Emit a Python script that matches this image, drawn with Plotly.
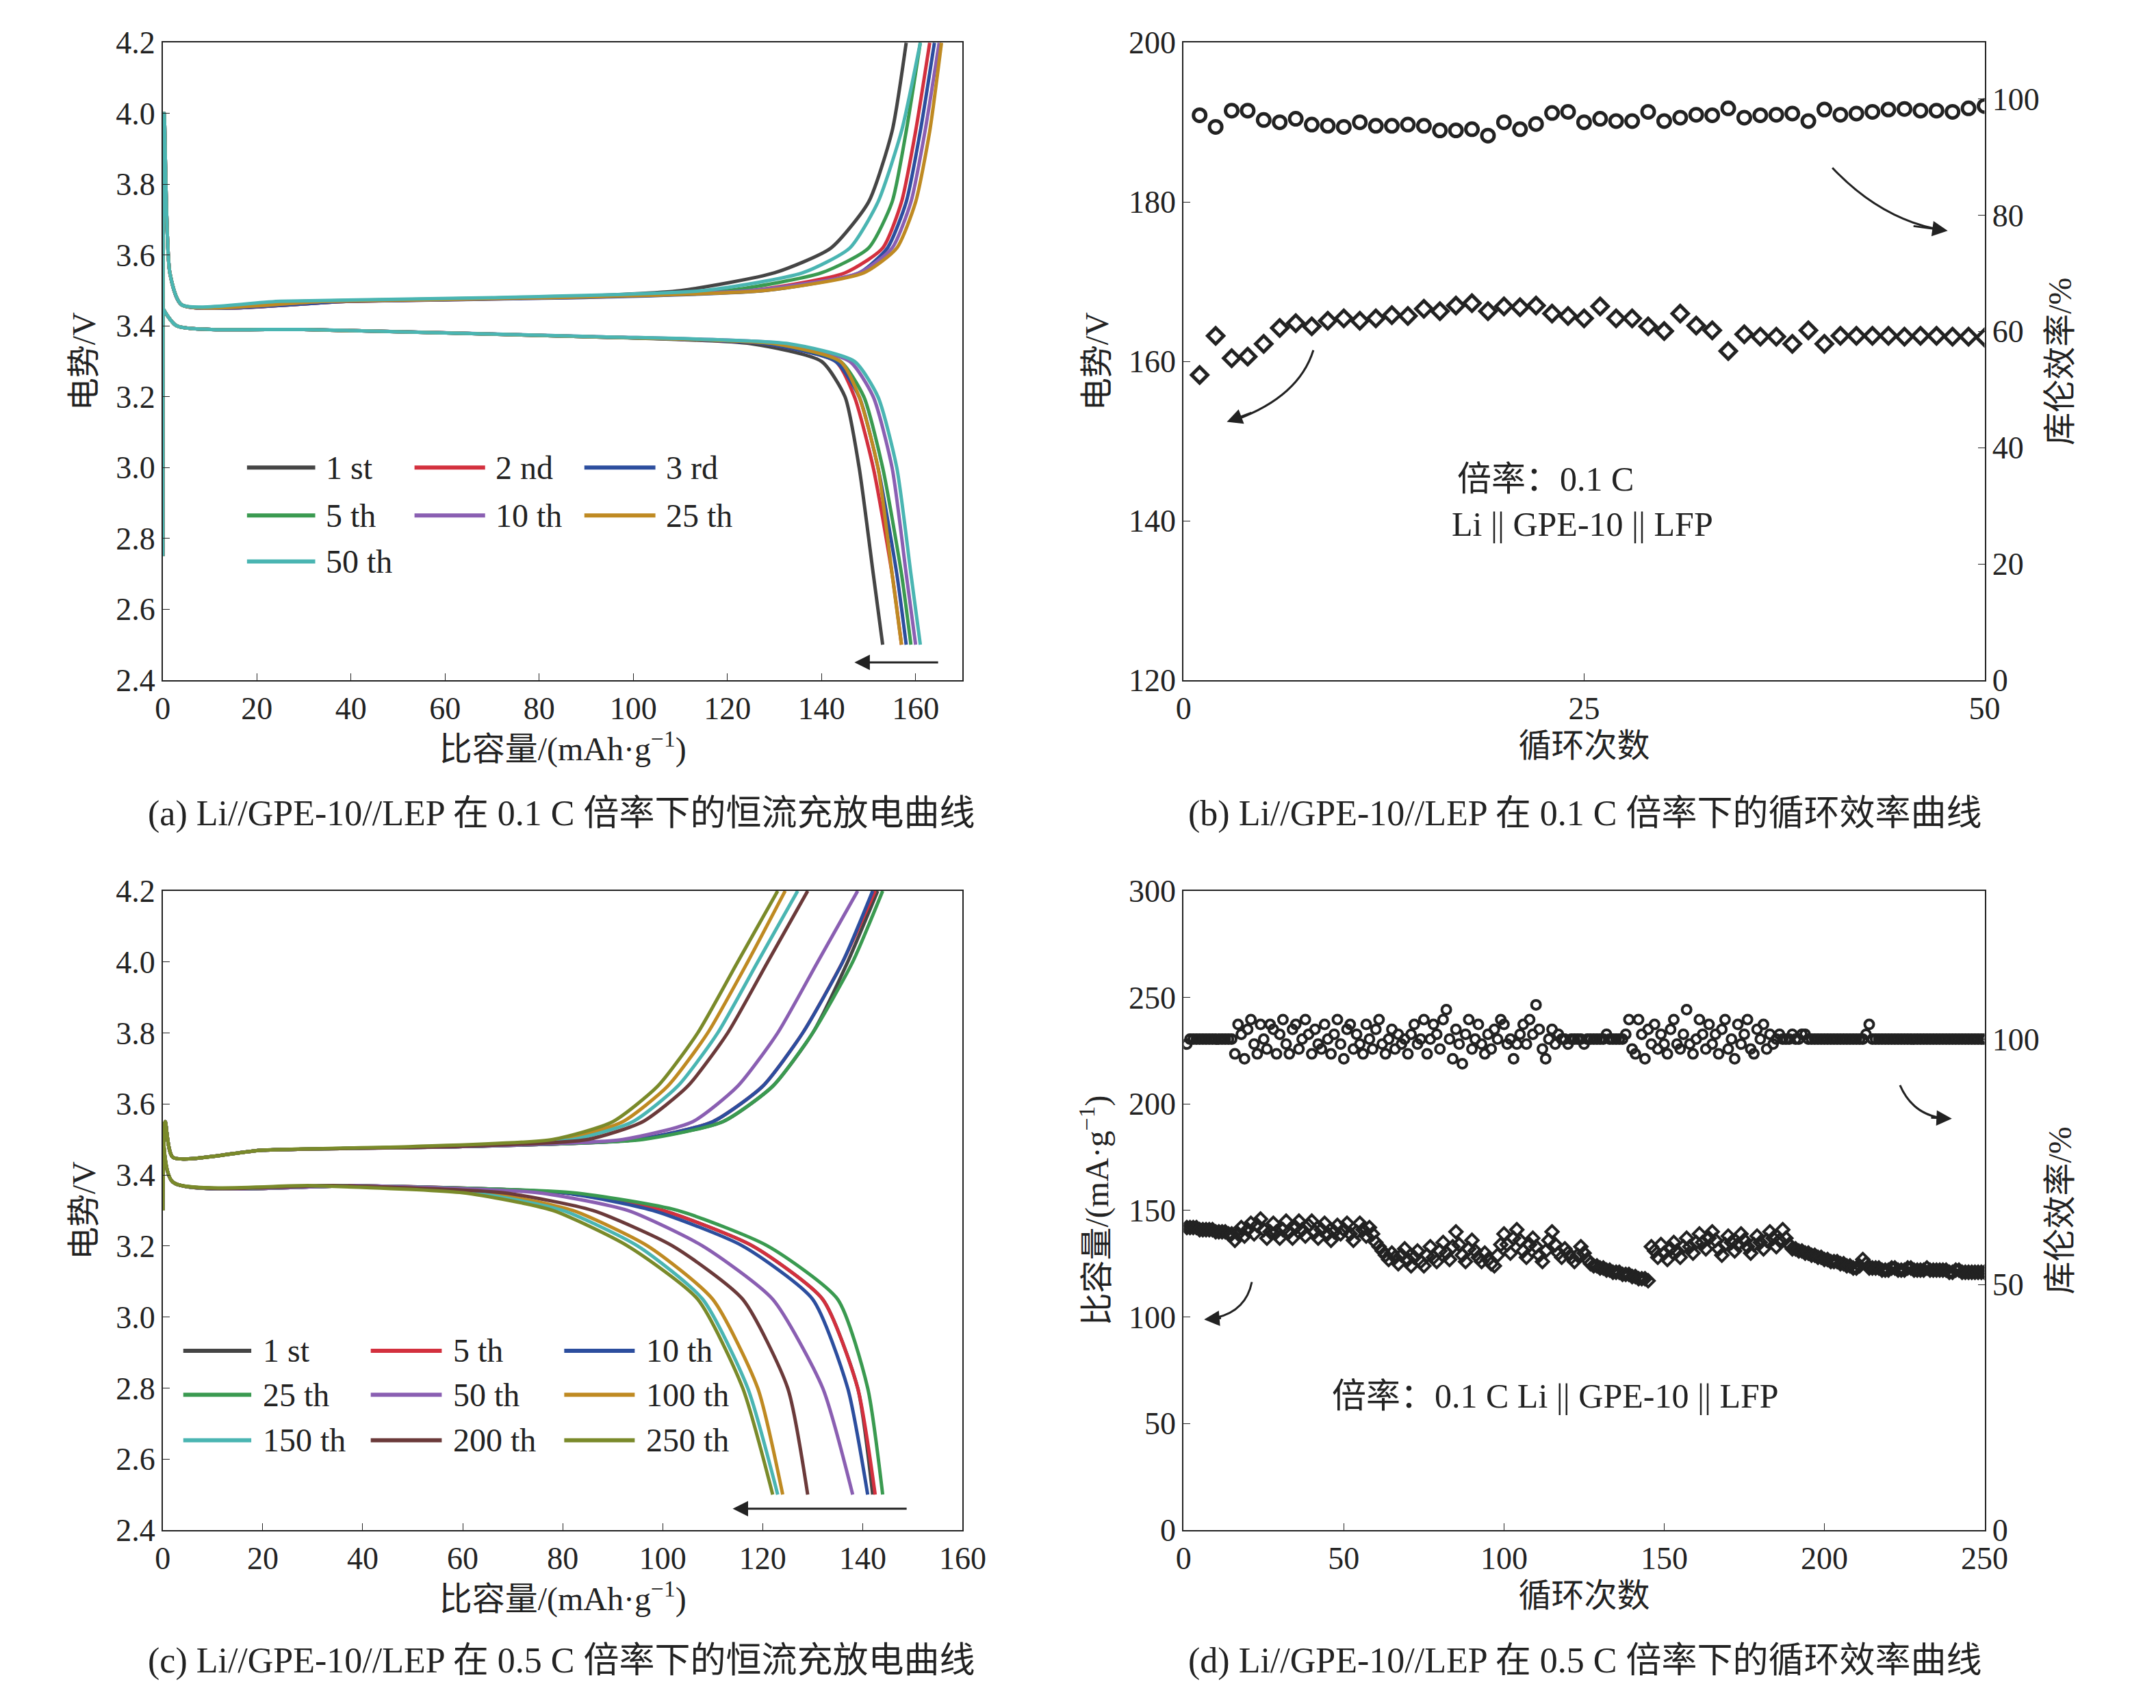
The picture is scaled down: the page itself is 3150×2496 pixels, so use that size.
import plotly.graph_objects as go

FONT = "Liberation Serif, Noto Sans CJK SC"

# ---------- (a) 0.1 C charge/discharge ----------
names_a = ["1 st", "2 nd", "3 rd", "5 th", "10 th", "25 th", "50 th"]
colors_a = ["#454545", "#d3303e", "#2c4e9e", "#3a9a50", "#8a5fb2", "#bf8a22", "#4ab5b2"]
v_chg_a = [2.75, 4.0, 3.55, 3.46, 3.47, 3.48, 3.50, 3.55, 3.62, 3.75, 3.95, 4.2]
q_chg_a = [
    [0, 0.3, 1.5, 4, 40, 80, 110, 130, 142, 150, 155, 158],
    [0, 0.3, 1.5, 4, 40, 85, 125, 145, 153, 157, 160, 163],
    [0, 0.3, 1.5, 4, 40, 88, 128, 148, 154, 158, 161, 164],
    [0, 0.3, 1.5, 4, 30, 75, 120, 140, 150, 155, 158, 161],
    [0, 0.3, 1.5, 4, 35, 80, 125, 148, 155, 159, 162, 165],
    [0, 0.3, 1.5, 4, 35, 82, 128, 149, 156, 160, 163, 165.5],
    [0, 0.3, 1.5, 4, 25, 70, 115, 136, 146, 152, 157, 161],
]
v_dis_a = [3.45, 3.40, 3.39, 3.37, 3.35, 3.30, 3.20, 3.0, 2.7, 2.5]
q_dis_a = [
    [0, 3, 30, 90, 125, 140, 145, 148, 151, 153],
    [0, 3, 30, 90, 128, 143, 147, 151, 155, 157],
    [0, 3, 30, 90, 128, 143, 148, 152, 156, 158],
    [0, 3, 30, 90, 130, 144, 149, 153, 157, 159],
    [0, 3, 30, 92, 132, 146, 151, 155, 158, 160],
    [0, 3, 30, 90, 130, 144, 148, 152, 155, 157],
    [0, 3, 30, 92, 133, 147, 152, 156, 159, 161],
]

# ---------- (b) 0.1 C cycling ----------
cap_b = [158.3, 163.2, 160.4, 160.6, 162.2, 164.2, 164.8, 164.4, 165.1, 165.4,
         165.1, 165.4, 165.8, 165.7, 166.6, 166.3, 167.0, 167.3, 166.3, 166.9,
         166.8, 167.0, 166.0, 165.7, 165.4, 166.9, 165.4, 165.4, 164.4, 163.8,
         166.0, 164.5, 163.9, 161.3, 163.4, 163.1, 163.1, 162.2, 163.9, 162.2,
         163.2, 163.2, 163.2, 163.2, 163.1, 163.2, 163.2, 163.1, 163.1, 163.0]
eff_b = [97.2, 95.2, 98.0, 98.0, 96.4, 96.0, 96.6, 95.6, 95.4, 95.2,
         96.0, 95.4, 95.4, 95.6, 95.4, 94.6, 94.6, 94.8, 93.7, 96.0,
         94.8, 95.7, 97.6, 97.8, 96.0, 96.6, 96.2, 96.2, 97.8, 96.2,
         96.8, 97.3, 97.2, 98.4, 96.8, 97.2, 97.3, 97.5, 96.2, 98.2,
         97.3, 97.5, 97.8, 98.2, 98.3, 98.0, 98.0, 97.8, 98.4, 98.8]

# ---------- (c) 0.5 C charge/discharge ----------
names_c = ["1 st", "5 th", "10 th", "25 th", "50 th", "100 th", "150 th", "200 th", "250 th"]
colors_c = ["#454545", "#d3303e", "#2c4e9e", "#3a9a50", "#8a5fb2", "#bf8a22", "#4ab5b2", "#6b3a3a", "#7a8a2a"]
v_chg_c = [3.3, 3.55, 3.45, 3.47, 3.48, 3.50, 3.55, 3.65, 3.8, 4.0, 4.2]
q_chg_c = [
    [0, 0.5, 2, 20, 60, 95, 112, 122, 130, 137, 143],
    [0, 0.5, 2, 20, 60, 95, 110, 120, 128, 136, 142.5],
    [0, 0.5, 2, 20, 60, 95, 110, 120, 128, 136, 142],
    [0, 0.5, 2, 20, 60, 96, 112, 122, 130, 138, 144],
    [0, 0.5, 2, 20, 60, 92, 106, 115, 123, 131, 139],
    [0, 0.5, 2, 20, 55, 80, 92, 101, 109, 117, 124.5],
    [0, 0.5, 2, 20, 55, 82, 94, 103, 111, 119, 127],
    [0, 0.5, 2, 20, 58, 85, 96, 105, 113, 121, 129],
    [0, 0.5, 2, 20, 50, 78, 90, 99, 107, 115, 123],
]
v_dis_c = [3.55, 3.38, 3.37, 3.35, 3.30, 3.20, 3.05, 2.8, 2.5]
q_dis_c = [
    [0, 2, 40, 80, 100, 118, 132, 139, 142],
    [0, 2, 40, 80, 100, 118, 132, 139, 142.5],
    [0, 2, 40, 80, 98, 116, 130, 137, 141],
    [0, 2, 40, 82, 103, 121, 135, 141, 144],
    [0, 2, 40, 75, 93, 108, 122, 132, 138],
    [0, 2, 35, 65, 82, 97, 110, 119, 124],
    [0, 2, 35, 62, 80, 95, 108, 117, 123],
    [0, 2, 35, 68, 86, 102, 116, 125, 129],
    [0, 2, 30, 60, 78, 93, 107, 116, 122],
]

# ---------- (d) 0.5 C cycling ----------
cap_d = [142, 142, 142, 142, 141, 141, 141, 141, 141, 140, 140, 140, 140, 139, 139,
         136, 139, 142, 138, 141, 144, 139, 143, 146, 141, 137, 140, 144, 140, 137,
         141, 145, 140, 137, 142, 145, 141, 138, 143, 145, 140, 137, 141, 144, 139,
         136, 140, 143, 139, 141, 144, 139, 136, 140, 144, 141, 138, 142, 139, 135,
         133, 131, 129, 127, 130, 128, 125, 129, 132, 127, 124, 128, 131, 126, 124,
         129, 133, 128, 126, 131, 135, 130, 127, 133, 140, 134, 129, 126, 132, 136,
         131, 128, 126, 130, 127, 125, 124, 129, 134, 139, 134, 130, 137, 141, 136,
         131, 128, 134, 137, 133, 129, 126, 131, 136, 140, 134, 130, 128, 132, 130,
         128, 126, 129, 133, 130, 127, 125, 124, 124, 123, 123, 122, 122, 121, 121,
         121, 120, 120, 120, 119, 119, 118, 118, 118, 117,
         133, 131, 128, 134, 130, 127, 132, 135, 131, 128, 133, 137, 133, 130, 135,
         139, 135, 132, 137, 140, 136, 132, 129, 134, 138, 135, 131, 134, 139, 136,
         133, 130, 134, 138, 135, 132, 136, 140, 137, 133, 136, 141, 137, 134, 132,
         132, 131, 131, 130, 130, 129, 129, 128, 128, 127, 127, 126, 126, 126, 125,
         125, 124, 124, 123, 123, 124, 127, 125, 123, 123, 123, 123, 122, 122, 122,
         123, 123, 122, 122, 122, 123, 123, 122, 122, 122, 122, 123, 122, 122, 122,
         122, 122, 122, 121, 121, 122, 122, 121, 121, 121, 121, 121, 121, 121, 121]
eff_d = [99, 100, 100, 100, 100, 100, 100, 100, 100, 100, 100, 100, 100, 100, 100,
         97, 103, 101, 96, 102, 104, 99, 97, 103, 100, 98, 103, 102, 97, 101,
         104, 99, 97, 102, 103, 98, 100, 104, 101, 97, 102, 99, 98, 103, 100,
         97, 101, 104, 99, 96, 102, 103, 98, 101, 99, 97, 103, 100, 98, 102,
         104, 99, 97, 100, 102, 98, 101, 99, 100, 97, 101, 103, 99, 100, 104,
         97, 100, 103, 101, 98, 104, 106, 100, 96, 102, 99, 95, 101, 104, 98,
         100, 103, 99, 97, 101, 98, 102, 100, 104, 103, 99, 100, 96, 99, 101,
         103, 99, 104, 101, 107, 102, 98, 96, 100, 102, 99, 101, 100, 100, 99,
         100, 100, 100, 100, 99, 100, 100, 100, 100, 100, 100, 101, 100, 100, 100,
         100, 100, 101, 104, 98, 97, 104, 101, 96, 102, 99, 103, 98, 101, 99,
         97, 102, 104, 99, 98, 101, 106, 99, 97, 100, 104, 101, 98, 103, 99,
         101, 97, 102, 104, 98, 100, 96, 103, 99, 101, 104, 98, 97, 102, 100,
         103, 98, 101, 99, 100, 101, 100, 100, 100, 101,
         100, 100, 101, 101, 100, 100, 100, 100, 100, 100, 100, 100, 100, 100, 100,
         100, 100, 100, 100, 100, 100, 100, 101, 103, 100, 100, 100, 100, 100, 100,
         100, 100, 100, 100, 100, 100, 100, 100, 100, 100, 100, 100, 100, 100, 100,
         100, 100, 100, 100, 100, 100, 100, 100, 100, 100, 100, 100, 100, 100, 100]

# legend grid (3 columns) in data units of each panel
leg_a_cols = [(17.9, 32.4), (53.5, 68.5), (89.6, 104.7)]
leg_a_rows = [3.0, 2.865, 2.735]
leg_c_cols = [(4.1, 17.7), (41.6, 55.8), (80.3, 94.4)]
leg_c_rows = [2.905, 2.781, 2.653]

fig = go.Figure()

for i in range(len(names_a)):
    for q, v in [(q_chg_a[i], v_chg_a), (q_dis_a[i], v_dis_a)]:
        fig.add_trace(go.Scatter(x=q, y=v, mode="lines", showlegend=False,
                                 line=dict(color=colors_a[i], width=5, shape="spline", smoothing=0.6),
                                 xaxis="x", yaxis="y"))

for i in range(len(names_c)):
    for q, v in [(q_chg_c[i], v_chg_c), (q_dis_c[i], v_dis_c)]:
        fig.add_trace(go.Scatter(x=q, y=v, mode="lines", showlegend=False,
                                 line=dict(color=colors_c[i], width=5, shape="spline", smoothing=0.6),
                                 xaxis="x3", yaxis="y3"))

cyc_b = list(range(1, len(cap_b) + 1))
fig.add_trace(go.Scatter(x=cyc_b, y=cap_b, mode="markers", showlegend=False, xaxis="x2", yaxis="y2",
                         marker=dict(symbol="diamond-open", size=18, color="#222", line=dict(width=5))))
fig.add_trace(go.Scatter(x=cyc_b, y=eff_b, mode="markers", showlegend=False, xaxis="x2", yaxis="y5",
                         marker=dict(symbol="circle-open", size=18, color="#222", line=dict(width=5))))

cyc_d = list(range(1, len(cap_d) + 1))
fig.add_trace(go.Scatter(x=cyc_d, y=cap_d, mode="markers", showlegend=False, xaxis="x4", yaxis="y4",
                         marker=dict(symbol="diamond-open", size=14, color="#222", line=dict(width=4))))
fig.add_trace(go.Scatter(x=list(range(1, len(eff_d) + 1)), y=eff_d, mode="markers", showlegend=False,
                         xaxis="x4", yaxis="y6",
                         marker=dict(symbol="circle-open", size=13, color="#222", line=dict(width=4))))

tickf = dict(family=FONT, size=46, color="#222")
titf = dict(family=FONT, size=48, color="#222")
ax = dict(showline=True, linecolor="#222", linewidth=2, ticks="inside", ticklen=10, tickcolor="#222",
          showgrid=False, zeroline=False, tickfont=tickf, mirror=True)

xa, xb = [0.0705, 0.447], [0.551, 0.928]
ytop, ybot = [0.607, 0.988], [0.099, 0.481]

fig.update_layout(
    width=3150, height=2496, plot_bgcolor="white", paper_bgcolor="white",
    margin=dict(l=0, r=0, t=0, b=0), showlegend=False,
    font=dict(family=FONT, color="#222"),
    xaxis=dict(ax, domain=xa, anchor="y", range=[0, 170], dtick=20,
               title=dict(text="比容量/(mAh·g<sup>−1</sup>)", font=titf, standoff=12)),
    yaxis=dict(ax, domain=ytop, anchor="x", range=[2.4, 4.2], dtick=0.2, tickformat=".1f",
               title=dict(text="电势/V", font=titf, standoff=14)),
    xaxis2=dict(ax, domain=xb, anchor="y2", range=[0, 50], tickvals=[0, 25, 50],
                title=dict(text="循环次数", font=titf, standoff=12)),
    yaxis2=dict(ax, domain=ytop, anchor="x2", range=[120, 200], dtick=20, mirror=False,
                title=dict(text="电势/V", font=titf, standoff=14)),
    yaxis5=dict(ax, overlaying="y2", anchor="x2", side="right", range=[0, 109.7], dtick=20, mirror=False,
                title=dict(text="库伦效率/%", font=titf, standoff=14)),
    xaxis3=dict(ax, domain=xa, anchor="y3", range=[0, 160], dtick=20,
                title=dict(text="比容量/(mAh·g<sup>−1</sup>)", font=titf, standoff=12)),
    yaxis3=dict(ax, domain=ybot, anchor="x3", range=[2.4, 4.2], dtick=0.2, tickformat=".1f",
                title=dict(text="电势/V", font=titf, standoff=14)),
    xaxis4=dict(ax, domain=xb, anchor="y4", range=[0, 250], dtick=50,
                title=dict(text="循环次数", font=titf, standoff=12)),
    yaxis4=dict(ax, domain=ybot, anchor="x4", range=[0, 300], dtick=50, mirror=False,
                title=dict(text="比容量/(mA·g<sup>−1</sup>)", font=titf, standoff=14)),
    yaxis6=dict(ax, overlaying="y4", anchor="x4", side="right", range=[0, 130.2], tickvals=[0, 50, 100],
                mirror=False, title=dict(text="库伦效率/%", font=titf, standoff=14)),
)

ann = []
shapes = []
legf = dict(family=FONT, size=48, color="#222")
for names, colors, cols, rows, xr, yr in [(names_a, colors_a, leg_a_cols, leg_a_rows, "x", "y"),
                                          (names_c, colors_c, leg_c_cols, leg_c_rows, "x3", "y3")]:
    for i, n in enumerate(names):
        c0, c1 = cols[i % 3]
        r = rows[i // 3]
        shapes.append(dict(type="line", xref=xr, yref=yr, x0=c0, x1=c1, y0=r, y1=r,
                           line=dict(color=colors[i], width=6)))
        ann.append(dict(text=n, x=c1 + 2, y=r, xref=xr, yref=yr, xanchor="left", showarrow=False,
                        font=legf))

arr = dict(showarrow=True, arrowhead=2, arrowsize=1.5, arrowwidth=3, arrowcolor="#222", text="")
# arrows indicating discharge direction
ann.append(dict(arr, x=147, y=2.45, ax=165, ay=2.45, xref="x", yref="y", axref="x", ayref="y"))
ann.append(dict(arr, x=114, y=2.46, ax=149, ay=2.46, xref="x3", yref="y3", axref="x3", ayref="y3"))
# curved arrow heads (b, d)
ann.append(dict(arr, x=47.7, y=176.4, ax=45.5, ay=177.0, xref="x2", yref="y2", axref="x2", ayref="y2"))
ann.append(dict(arr, x=2.7, y=152.4, ax=4.3, ay=153.6, xref="x2", yref="y2", axref="x2", ayref="y2"))
ann.append(dict(arr, x=239.8, y=193.1, ax=233, ay=193.6, xref="x4", yref="y4", axref="x4", ayref="y4"))
ann.append(dict(arr, x=6.4, y=98.8, ax=12, ay=99.5, xref="x4", yref="y4", axref="x4", ayref="y4"))
# texts
ann.append(dict(text="倍率：0.1 C", x=22.6, y=145.2, xref="x2", yref="y2", showarrow=False,
                font=dict(family=FONT, size=50)))
ann.append(dict(text="Li || GPE-10 || LFP", x=24.9, y=139.6, xref="x2", yref="y2", showarrow=False,
                font=dict(family=FONT, size=50)))
ann.append(dict(text="倍率：0.1 C Li || GPE-10 || LFP", x=116, y=63, xref="x4", yref="y4",
                showarrow=False, font=dict(family=FONT, size=50)))
# captions
for txt, xc, yc in [("(a) Li//GPE-10//LEP 在 0.1 C 倍率下的恒流充放电曲线", 0.258, 0.527),
                    ("(b) Li//GPE-10//LEP 在 0.1 C 倍率下的循环效率曲线", 0.74, 0.527),
                    ("(c) Li//GPE-10//LEP 在 0.5 C 倍率下的恒流充放电曲线", 0.258, 0.021),
                    ("(d) Li//GPE-10//LEP 在 0.5 C 倍率下的循环效率曲线", 0.74, 0.021)]:
    ann.append(dict(text=txt, x=xc, y=yc, xref="paper", yref="paper", xanchor="center",
                    yanchor="middle", showarrow=False, font=dict(family=FONT, size=52)))

curve = dict(type="path", line=dict(color="#222", width=3))
shapes += [
    dict(curve, xref="x2", yref="y2", path="M 40.5 184.3 Q 43.4 178.1 47.0 176.6"),
    dict(curve, xref="x2", yref="y2", path="M 8.1 161.4 Q 7.2 155.6 3.3 152.7"),
    dict(curve, xref="x4", yref="y4", path="M 223.6 208.8 Q 227.8 194.3 238 193.2"),
    dict(curve, xref="x4", yref="y4", path="M 21.3 116.4 Q 19.2 101 7.5 99"),
]
fig.update_layout(annotations=ann, shapes=shapes)

fig.write_html("out.html")
